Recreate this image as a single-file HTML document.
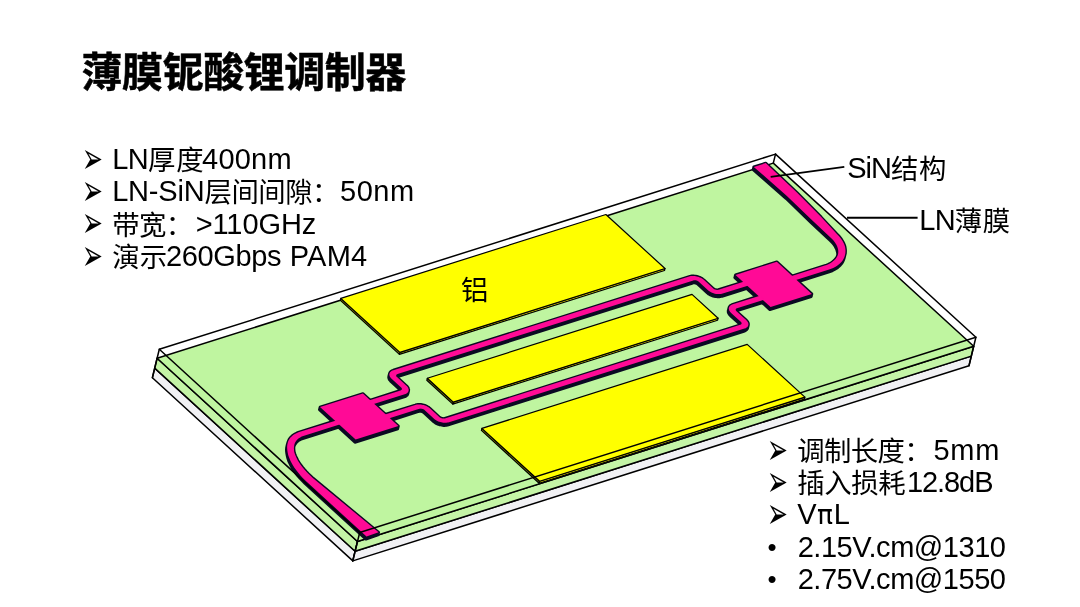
<!DOCTYPE html>
<html lang="zh-CN">
<head>
<meta charset="utf-8">
<title>薄膜铌酸锂调制器</title>
<style>
html,body{margin:0;padding:0;background:#fff;}
body{width:1080px;height:607px;overflow:hidden;}
.slide{position:relative;width:1080px;height:607px;background:#fff;overflow:hidden;
  font-family:"Liberation Sans","Noto Sans CJK SC",sans-serif;color:#000;}
.txt{position:absolute;left:0;top:0;width:1080px;height:607px;will-change:transform;}
h1{position:absolute;left:81.55px;top:42.7px;margin:0;font-size:41px;line-height:60px;font-weight:bold;white-space:nowrap;letter-spacing:-0.46px;-webkit-text-stroke:0.5px #000;}
ul{margin:0;padding:0;list-style:none;}
li{margin:0;padding:0;}
.r{position:absolute;display:block;white-space:pre;line-height:32px;}
.e{font-size:29px;}
.c{font-size:27.4px;}
.b{position:absolute;display:block;line-height:30px;white-space:nowrap;}
.arrow{font-family:"DejaVu Sans",sans-serif;font-size:24px;transform:scale(1.04,1.8);transform-origin:0 0;}
.dot{font-family:"Liberation Sans",sans-serif;font-size:26px;}

</style>
</head>
<body>
<div class="slide">
<svg width="1080" height="607" viewBox="0 0 1080 607" style="position:absolute;left:0;top:0">
<polygon points="154.7,368.1 355.1,551.3 352.8,560.9 152.4,377.7" fill="#f1f1f4" stroke="#000" stroke-width="1.5" stroke-linejoin="round"/>
<polygon points="157.1,358.3 357.5,541.5 355.1,551.3 154.7,368.1" fill="#c4f4a6" stroke="#000" stroke-width="1.5" stroke-linejoin="round"/>
<polygon points="355.1,551.3 971.3,356.1 969.0,365.7 352.8,560.9" fill="#f1f1f4" stroke="#000" stroke-width="1.5" stroke-linejoin="round"/>
<polygon points="357.5,541.5 973.7,346.3 971.3,356.1 355.1,551.3" fill="#c4f4a6" stroke="#000" stroke-width="1.5" stroke-linejoin="round"/>
<polygon points="157.1,358.3 773.3,163.1 973.7,346.3 357.5,541.5" fill="#bff5a0" stroke="#000" stroke-width="1.5" stroke-linejoin="round"/>
<polygon points="340.8,298.4 399.9,352.4 399.4,354.4 340.4,300.4" fill="#8a8a00" stroke="#000" stroke-width="1.2" stroke-linejoin="round"/>
<polygon points="399.9,352.4 665.0,268.5 664.5,270.5 399.4,354.4" fill="#e8e000" stroke="#000" stroke-width="1.2" stroke-linejoin="round"/>
<polygon points="340.8,298.4 605.9,214.5 665.0,268.5 399.9,352.4" fill="#ffff00" stroke="#000" stroke-width="1.2" stroke-linejoin="round"/>
<polygon points="427.3,378.3 453.3,402.1 452.8,404.1 426.8,380.3" fill="#8a8a00" stroke="#000" stroke-width="1.2" stroke-linejoin="round"/>
<polygon points="453.3,402.1 718.1,318.2 717.6,320.2 452.8,404.1" fill="#e8e000" stroke="#000" stroke-width="1.2" stroke-linejoin="round"/>
<polygon points="427.3,378.3 692.0,294.4 718.1,318.2 453.3,402.1" fill="#ffff00" stroke="#000" stroke-width="1.2" stroke-linejoin="round"/>
<polygon points="481.9,428.4 539.6,481.2 539.1,483.2 481.4,430.4" fill="#8a8a00" stroke="#000" stroke-width="1.2" stroke-linejoin="round"/>
<polygon points="539.6,481.2 804.9,397.1 804.4,399.1 539.1,483.2" fill="#e8e000" stroke="#000" stroke-width="1.2" stroke-linejoin="round"/>
<polygon points="481.9,428.4 747.2,344.4 804.9,397.1 539.6,481.2" fill="#ffff00" stroke="#000" stroke-width="1.2" stroke-linejoin="round"/>
<g fill="#0a0a22" stroke="#0a0a22" stroke-width="2.80" stroke-linejoin="round">
<path d="M377.9,535.0 L312.5,480.9 L310.1,478.7 L307.8,476.5 L305.6,474.2 L303.6,471.9 L301.7,469.6 L300.0,467.4 L298.4,465.1 L297.1,462.9 L295.9,460.7 L294.9,458.5 L294.2,456.4 L293.6,454.4 L293.3,452.5 L293.3,450.6 L293.4,448.9 L293.8,447.3 L294.3,445.8 L295.0,444.4 L295.9,443.1 L296.9,442.0 L298.1,440.9 L299.5,440.1 L301.0,439.3 L302.7,438.7 L339.8,427.0 L335.5,423.1 L298.4,434.8 L296.3,435.6 L294.3,436.6 L292.5,437.8 L290.9,439.1 L289.6,440.5 L288.5,442.1 L287.6,443.8 L287.0,445.6 L286.6,447.5 L286.4,449.5 L286.5,451.6 L286.8,453.8 L287.2,456.0 L287.8,458.4 L288.6,460.8 L289.7,463.2 L290.9,465.7 L292.4,468.2 L294.0,470.7 L295.8,473.3 L297.8,475.8 L300.0,478.4 L302.4,480.9 L305.0,483.5 L365.9,539.2Z M378.1,534.3 L312.7,480.2 L310.3,478.1 L307.9,475.8 L305.8,473.5 L303.7,471.3 L301.8,469.0 L300.1,466.7 L298.6,464.4 L297.2,462.2 L296.1,460.0 L295.1,457.9 L294.3,455.8 L293.8,453.7 L293.5,451.8 L293.4,450.0 L293.6,448.2 L293.9,446.6 L294.4,445.1 L295.2,443.7 L296.0,442.4 L297.1,441.3 L298.3,440.3 L299.7,439.4 L301.2,438.6 L302.9,438.0 L339.9,426.3 L335.7,422.4 L298.6,434.2 L296.4,435.0 L294.4,436.0 L292.6,437.1 L291.1,438.4 L289.8,439.8 L288.7,441.4 L287.8,443.1 L287.2,444.9 L286.8,446.8 L286.6,448.8 L286.7,450.9 L287.0,453.1 L287.4,455.4 L288.0,457.7 L288.8,460.1 L289.8,462.5 L291.1,465.0 L292.5,467.5 L294.2,470.0 L296.0,472.6 L298.0,475.1 L300.2,477.7 L302.5,480.2 L305.1,482.8 L366.0,538.5Z M378.2,533.7 L312.8,479.5 L310.4,477.4 L308.1,475.1 L305.9,472.9 L303.9,470.6 L302.0,468.3 L300.3,466.0 L298.8,463.8 L297.4,461.5 L296.2,459.3 L295.3,457.2 L294.5,455.1 L293.9,453.1 L293.7,451.1 L293.6,449.3 L293.7,447.5 L294.1,445.9 L294.6,444.4 L295.3,443.0 L296.2,441.7 L297.3,440.6 L298.5,439.6 L299.8,438.7 L301.3,438.0 L303.0,437.4 L340.1,425.6 L335.9,421.7 L298.8,433.5 L296.6,434.3 L294.6,435.3 L292.8,436.4 L291.2,437.7 L289.9,439.2 L288.8,440.7 L288.0,442.4 L287.3,444.2 L286.9,446.1 L286.8,448.2 L286.8,450.3 L287.1,452.4 L287.5,454.7 L288.1,457.0 L288.9,459.4 L290.0,461.8 L291.2,464.3 L292.7,466.8 L294.3,469.4 L296.2,471.9 L298.2,474.5 L300.3,477.0 L302.7,479.5 L305.3,482.1 L366.2,537.8Z M378.4,533.0 L313.0,478.8 L310.6,476.7 L308.3,474.5 L306.1,472.2 L304.0,469.9 L302.2,467.6 L300.5,465.3 L298.9,463.1 L297.6,460.8 L296.4,458.7 L295.4,456.5 L294.7,454.4 L294.1,452.4 L293.8,450.5 L293.8,448.6 L293.9,446.9 L294.2,445.2 L294.8,443.7 L295.5,442.3 L296.4,441.1 L297.4,439.9 L298.6,438.9 L300.0,438.0 L301.5,437.3 L303.2,436.7 L340.3,424.9 L336.0,421.1 L298.9,432.8 L296.7,433.6 L294.7,434.6 L293.0,435.7 L291.4,437.0 L290.1,438.5 L289.0,440.0 L288.1,441.7 L287.5,443.6 L287.1,445.5 L286.9,447.5 L287.0,449.6 L287.3,451.8 L287.7,454.0 L288.3,456.3 L289.1,458.7 L290.1,461.2 L291.4,463.7 L292.8,466.2 L294.5,468.7 L296.3,471.2 L298.3,473.8 L300.5,476.3 L302.9,478.9 L305.4,481.4 L366.4,537.2Z M378.6,532.3 L313.1,478.2 L310.8,476.0 L308.4,473.8 L306.2,471.5 L304.2,469.2 L302.3,466.9 L300.6,464.7 L299.1,462.4 L297.7,460.2 L296.6,458.0 L295.6,455.8 L294.8,453.7 L294.2,451.7 L294.0,449.8 L293.9,447.9 L294.1,446.2 L294.4,444.6 L294.9,443.1 L295.6,441.7 L296.5,440.4 L297.6,439.3 L298.8,438.2 L300.2,437.4 L301.7,436.6 L303.3,436.0 L340.4,424.3 L336.2,420.4 L299.1,432.1 L296.9,432.9 L294.9,433.9 L293.1,435.1 L291.6,436.4 L290.2,437.8 L289.1,439.4 L288.3,441.1 L287.7,442.9 L287.3,444.8 L287.1,446.8 L287.2,448.9 L287.4,451.1 L287.8,453.3 L288.4,455.7 L289.3,458.1 L290.3,460.5 L291.6,463.0 L293.0,465.5 L294.6,468.0 L296.5,470.6 L298.5,473.1 L300.7,475.7 L303.0,478.2 L305.6,480.8 L366.5,536.5Z"/>
<path d="M319.4,409.8 L362.2,396.3 L397.8,428.8 L354.9,442.3Z M319.5,409.1 L362.4,395.6 L397.9,428.1 L355.1,441.7Z M319.7,408.5 L362.5,394.9 L398.1,427.4 L355.3,441.0Z M319.9,407.8 L362.7,394.2 L398.3,426.7 L355.4,440.3Z M320.0,407.1 L362.9,393.6 L398.4,426.1 L355.6,439.6Z"/>
<path d="M734.8,277.6 L776.1,264.5 L811.2,296.6 L769.9,309.7Z M735.0,276.9 L776.3,263.9 L811.4,295.9 L770.1,309.0Z M735.2,276.3 L776.4,263.2 L811.5,295.3 L770.2,308.3Z M735.3,275.6 L776.6,262.5 L811.7,294.6 L770.4,307.7Z M735.5,274.9 L776.8,261.8 L811.8,293.9 L770.6,307.0Z"/>
<path d="M753.2,169.6 L786.2,198.6 L810.9,222.4 L828.8,239.3 L830.4,240.7 L831.7,242.0 L832.9,243.3 L834.0,244.7 L834.9,246.1 L835.7,247.5 L836.4,248.9 L836.9,250.4 L837.3,251.8 L837.6,253.2 L837.6,254.6 L837.6,256.0 L837.2,257.4 L836.7,258.7 L836.1,259.9 L835.3,261.1 L834.3,262.2 L833.3,263.3 L832.1,264.3 L830.7,265.3 L829.3,266.2 L827.7,267.0 L826.0,267.7 L824.2,268.3 L790.3,279.0 L794.5,282.9 L828.4,272.2 L830.6,271.4 L832.6,270.6 L834.5,269.6 L836.2,268.6 L837.8,267.5 L839.2,266.3 L840.5,265.0 L841.6,263.6 L842.6,262.2 L843.3,260.7 L843.9,259.2 L844.4,257.6 L844.7,256.0 L844.9,254.3 L844.9,252.6 L844.7,250.9 L844.3,249.2 L843.7,247.4 L843.0,245.6 L842.1,243.9 L841.0,242.1 L839.7,240.4 L838.2,238.7 L836.8,237.1 L820.5,219.8 L796.5,195.5 L765.1,165.8Z M753.3,168.9 L786.4,197.9 L811.1,221.7 L828.9,238.6 L830.5,240.0 L831.8,241.3 L833.0,242.7 L834.1,244.0 L835.1,245.4 L835.9,246.8 L836.6,248.3 L837.1,249.7 L837.5,251.1 L837.7,252.6 L837.8,254.0 L837.7,255.4 L837.4,256.7 L836.9,258.0 L836.2,259.2 L835.4,260.4 L834.5,261.6 L833.4,262.7 L832.2,263.7 L830.9,264.6 L829.4,265.5 L827.8,266.3 L826.1,267.0 L824.3,267.6 L790.5,278.3 L794.7,282.2 L828.6,271.5 L830.7,270.7 L832.7,269.9 L834.6,269.0 L836.4,267.9 L838.0,266.8 L839.4,265.6 L840.7,264.3 L841.8,262.9 L842.7,261.5 L843.5,260.0 L844.1,258.5 L844.5,256.9 L844.9,255.3 L845.1,253.6 L845.0,251.9 L844.9,250.2 L844.5,248.5 L843.9,246.7 L843.2,245.0 L842.2,243.2 L841.1,241.5 L839.8,239.7 L838.4,238.0 L836.9,236.4 L820.7,219.1 L796.7,194.8 L765.2,165.1Z M753.5,168.2 L786.6,197.2 L811.3,221.1 L829.1,237.9 L830.7,239.3 L832.0,240.6 L833.2,242.0 L834.3,243.4 L835.2,244.8 L836.1,246.2 L836.7,247.6 L837.3,249.0 L837.6,250.5 L837.9,251.9 L838.0,253.3 L837.9,254.7 L837.5,256.0 L837.0,257.3 L836.4,258.6 L835.6,259.8 L834.7,260.9 L833.6,262.0 L832.4,263.0 L831.0,263.9 L829.6,264.8 L828.0,265.6 L826.3,266.3 L824.5,266.9 L790.6,277.7 L794.9,281.5 L828.8,270.8 L830.9,270.1 L832.9,269.2 L834.8,268.3 L836.5,267.2 L838.1,266.1 L839.6,264.9 L840.8,263.6 L842.0,262.3 L842.9,260.8 L843.7,259.4 L844.3,257.8 L844.7,256.2 L845.0,254.6 L845.2,253.0 L845.2,251.3 L845.0,249.6 L844.6,247.8 L844.1,246.1 L843.3,244.3 L842.4,242.5 L841.3,240.8 L840.0,239.0 L838.6,237.3 L837.1,235.8 L820.8,218.5 L796.9,194.1 L765.4,164.4Z M753.7,167.6 L786.7,196.6 L811.4,220.4 L829.2,237.2 L830.8,238.7 L832.2,240.0 L833.4,241.3 L834.5,242.7 L835.4,244.1 L836.2,245.5 L836.9,246.9 L837.4,248.3 L837.8,249.8 L838.0,251.2 L838.1,252.6 L838.1,254.0 L837.7,255.3 L837.2,256.6 L836.6,257.9 L835.8,259.1 L834.8,260.2 L833.7,261.3 L832.5,262.3 L831.2,263.3 L829.7,264.1 L828.2,264.9 L826.5,265.6 L824.7,266.3 L790.8,277.0 L795.0,280.9 L828.9,270.1 L831.0,269.4 L833.1,268.5 L834.9,267.6 L836.7,266.6 L838.3,265.4 L839.7,264.2 L841.0,262.9 L842.1,261.6 L843.1,260.2 L843.8,258.7 L844.4,257.1 L844.8,255.5 L845.2,253.9 L845.4,252.3 L845.4,250.6 L845.2,248.9 L844.8,247.1 L844.2,245.4 L843.5,243.6 L842.6,241.9 L841.4,240.1 L840.2,238.4 L838.7,236.6 L837.3,235.1 L821.0,217.8 L797.0,193.5 L765.5,163.8Z M753.8,166.9 L786.9,195.9 L811.6,219.7 L829.4,236.6 L831.0,238.0 L832.3,239.3 L833.5,240.6 L834.6,242.0 L835.6,243.4 L836.4,244.8 L837.1,246.2 L837.6,247.7 L838.0,249.1 L838.2,250.5 L838.3,251.9 L838.2,253.3 L837.9,254.7 L837.4,256.0 L836.7,257.2 L835.9,258.4 L835.0,259.5 L833.9,260.6 L832.7,261.6 L831.4,262.6 L829.9,263.5 L828.3,264.3 L826.6,265.0 L824.8,265.6 L790.9,276.3 L795.2,280.2 L829.1,269.5 L831.2,268.7 L833.2,267.9 L835.1,266.9 L836.8,265.9 L838.4,264.8 L839.9,263.6 L841.2,262.3 L842.3,260.9 L843.2,259.5 L844.0,258.0 L844.6,256.5 L845.0,254.9 L845.4,253.3 L845.5,251.6 L845.5,249.9 L845.3,248.2 L845.0,246.5 L844.4,244.7 L843.6,242.9 L842.7,241.2 L841.6,239.4 L840.3,237.7 L838.9,236.0 L837.4,234.4 L821.2,217.1 L797.2,192.8 L765.7,163.1Z"/>
<path d="M372.4,407.0 L404.1,397.0 L404.9,396.7 L405.6,396.4 L406.2,396.0 L406.7,395.5 L407.2,395.1 L407.6,394.5 L407.8,394.0 L408.0,393.4 L408.1,392.8 L408.0,392.2 L407.9,391.6 L407.7,390.9 L407.3,390.3 L406.9,389.7 L406.4,389.0 L405.8,388.4 L396.3,379.8 L396.1,379.6 L395.9,379.3 L395.8,379.1 L395.7,378.9 L395.6,378.7 L395.5,378.5 L395.5,378.2 L395.5,378.0 L395.6,377.8 L395.7,377.6 L395.8,377.5 L396.0,377.3 L396.2,377.1 L396.4,377.0 L396.6,376.9 L396.9,376.8 L692.7,283.1 L693.0,283.0 L693.3,282.9 L693.6,282.9 L694.0,282.9 L694.3,282.9 L694.7,282.9 L695.0,283.0 L695.4,283.0 L695.7,283.1 L696.1,283.2 L696.4,283.4 L696.7,283.5 L697.0,283.7 L697.3,283.9 L697.6,284.0 L697.8,284.3 L707.3,292.9 L708.0,293.5 L708.7,294.0 L709.6,294.5 L710.4,295.0 L711.4,295.4 L712.3,295.8 L713.3,296.1 L714.3,296.4 L715.3,296.6 L716.4,296.7 L717.4,296.8 L718.4,296.8 L719.4,296.8 L720.3,296.7 L721.2,296.5 L722.0,296.3 L747.9,288.1 L743.7,284.2 L717.8,292.4 L717.5,292.5 L717.2,292.5 L716.9,292.6 L716.5,292.6 L716.2,292.6 L715.8,292.5 L715.5,292.5 L715.1,292.4 L714.8,292.3 L714.4,292.2 L714.1,292.1 L713.8,292.0 L713.5,291.8 L713.2,291.6 L712.9,291.4 L712.7,291.2 L703.2,282.5 L702.5,282.0 L701.7,281.4 L700.9,280.9 L700.1,280.5 L699.1,280.1 L698.2,279.7 L697.2,279.4 L696.2,279.1 L695.1,278.9 L694.1,278.8 L693.1,278.7 L692.1,278.7 L691.1,278.7 L690.2,278.8 L689.3,279.0 L688.4,279.2 L392.7,372.9 L391.9,373.2 L391.2,373.5 L390.6,373.9 L390.0,374.4 L389.6,374.8 L389.2,375.4 L388.9,375.9 L388.8,376.5 L388.7,377.1 L388.7,377.7 L388.9,378.3 L389.1,379.0 L389.4,379.6 L389.8,380.2 L390.4,380.9 L390.9,381.5 L400.4,390.1 L400.7,390.3 L400.8,390.6 L401.0,390.8 L401.1,391.0 L401.2,391.2 L401.2,391.4 L401.2,391.7 L401.2,391.9 L401.2,392.1 L401.1,392.3 L400.9,392.4 L400.8,392.6 L400.6,392.8 L400.4,392.9 L400.1,393.0 L399.8,393.1 L368.1,403.2Z M372.5,406.4 L404.2,396.3 L405.0,396.0 L405.7,395.7 L406.4,395.3 L406.9,394.9 L407.4,394.4 L407.7,393.9 L408.0,393.3 L408.2,392.7 L408.2,392.1 L408.2,391.5 L408.1,390.9 L407.8,390.2 L407.5,389.6 L407.1,389.0 L406.6,388.4 L406.0,387.8 L396.5,379.1 L396.3,378.9 L396.1,378.7 L395.9,378.4 L395.8,378.2 L395.7,378.0 L395.7,377.8 L395.7,377.6 L395.7,377.4 L395.8,377.2 L395.9,377.0 L396.0,376.8 L396.1,376.6 L396.3,376.5 L396.6,376.3 L396.8,376.2 L397.1,376.1 L692.8,282.4 L693.1,282.3 L693.4,282.3 L693.8,282.2 L694.1,282.2 L694.5,282.2 L694.8,282.3 L695.2,282.3 L695.5,282.4 L695.9,282.5 L696.2,282.6 L696.6,282.7 L696.9,282.8 L697.2,283.0 L697.5,283.2 L697.7,283.4 L698.0,283.6 L707.5,292.3 L708.2,292.8 L708.9,293.4 L709.7,293.9 L710.6,294.3 L711.5,294.7 L712.5,295.1 L713.5,295.4 L714.5,295.7 L715.5,295.9 L716.5,296.0 L717.6,296.1 L718.6,296.1 L719.5,296.1 L720.5,296.0 L721.4,295.8 L722.2,295.6 L748.1,287.4 L743.8,283.5 L718.0,291.7 L717.7,291.8 L717.4,291.9 L717.0,291.9 L716.7,291.9 L716.3,291.9 L716.0,291.9 L715.6,291.8 L715.3,291.8 L714.9,291.7 L714.6,291.6 L714.2,291.4 L713.9,291.3 L713.6,291.1 L713.3,290.9 L713.1,290.8 L712.8,290.6 L703.3,281.9 L702.7,281.3 L701.9,280.8 L701.1,280.3 L700.2,279.8 L699.3,279.4 L698.3,279.0 L697.3,278.7 L696.3,278.4 L695.3,278.2 L694.3,278.1 L693.3,278.0 L692.3,278.0 L691.3,278.0 L690.3,278.1 L689.4,278.3 L688.6,278.5 L392.8,372.2 L392.1,372.5 L391.4,372.9 L390.7,373.2 L390.2,373.7 L389.7,374.2 L389.4,374.7 L389.1,375.2 L388.9,375.8 L388.9,376.4 L388.9,377.0 L389.0,377.7 L389.2,378.3 L389.6,378.9 L390.0,379.6 L390.5,380.2 L391.1,380.8 L400.6,389.5 L400.8,389.7 L401.0,389.9 L401.1,390.1 L401.3,390.3 L401.3,390.5 L401.4,390.8 L401.4,391.0 L401.4,391.2 L401.3,391.4 L401.2,391.6 L401.1,391.8 L400.9,391.9 L400.7,392.1 L400.5,392.2 L400.3,392.3 L400.0,392.4 L368.3,402.5Z M372.7,405.7 L404.4,395.6 L405.2,395.4 L405.9,395.0 L406.5,394.6 L407.1,394.2 L407.5,393.7 L407.9,393.2 L408.2,392.6 L408.3,392.1 L408.4,391.5 L408.4,390.8 L408.2,390.2 L408.0,389.6 L407.7,388.9 L407.2,388.3 L406.7,387.7 L406.1,387.1 L396.6,378.4 L396.4,378.2 L396.2,378.0 L396.1,377.8 L396.0,377.5 L395.9,377.3 L395.9,377.1 L395.8,376.9 L395.9,376.7 L395.9,376.5 L396.0,376.3 L396.1,376.1 L396.3,375.9 L396.5,375.8 L396.7,375.6 L397.0,375.5 L397.2,375.4 L693.0,281.7 L693.3,281.7 L693.6,281.6 L693.9,281.6 L694.3,281.5 L694.6,281.5 L695.0,281.6 L695.3,281.6 L695.7,281.7 L696.1,281.8 L696.4,281.9 L696.7,282.0 L697.1,282.2 L697.4,282.3 L697.6,282.5 L697.9,282.7 L698.1,282.9 L707.6,291.6 L708.3,292.1 L709.1,292.7 L709.9,293.2 L710.8,293.7 L711.7,294.1 L712.6,294.4 L713.6,294.8 L714.6,295.0 L715.7,295.2 L716.7,295.4 L717.7,295.4 L718.7,295.5 L719.7,295.4 L720.6,295.3 L721.5,295.1 L722.4,294.9 L748.2,286.7 L744.0,282.8 L718.1,291.0 L717.8,291.1 L717.5,291.2 L717.2,291.2 L716.9,291.2 L716.5,291.2 L716.2,291.2 L715.8,291.2 L715.4,291.1 L715.1,291.0 L714.7,290.9 L714.4,290.8 L714.1,290.6 L713.8,290.4 L713.5,290.3 L713.2,290.1 L713.0,289.9 L703.5,281.2 L702.8,280.6 L702.1,280.1 L701.3,279.6 L700.4,279.1 L699.5,278.7 L698.5,278.3 L697.5,278.0 L696.5,277.8 L695.5,277.6 L694.4,277.4 L693.4,277.3 L692.4,277.3 L691.4,277.4 L690.5,277.5 L689.6,277.6 L688.8,277.9 L393.0,371.6 L392.2,371.8 L391.5,372.2 L390.9,372.6 L390.3,373.0 L389.9,373.5 L389.5,374.0 L389.3,374.6 L389.1,375.1 L389.0,375.7 L389.0,376.4 L389.2,377.0 L389.4,377.6 L389.7,378.3 L390.2,378.9 L390.7,379.5 L391.3,380.1 L400.8,388.8 L401.0,389.0 L401.2,389.2 L401.3,389.4 L401.4,389.7 L401.5,389.9 L401.5,390.1 L401.6,390.3 L401.5,390.5 L401.5,390.7 L401.4,390.9 L401.3,391.1 L401.1,391.3 L400.9,391.4 L400.7,391.6 L400.4,391.7 L400.2,391.8 L368.4,401.8Z M372.8,405.0 L404.6,395.0 L405.3,394.7 L406.1,394.3 L406.7,394.0 L407.2,393.5 L407.7,393.0 L408.0,392.5 L408.3,392.0 L408.5,391.4 L408.6,390.8 L408.5,390.2 L408.4,389.5 L408.2,388.9 L407.8,388.3 L407.4,387.6 L406.9,387.0 L406.3,386.4 L396.8,377.7 L396.6,377.5 L396.4,377.3 L396.3,377.1 L396.1,376.9 L396.1,376.6 L396.0,376.4 L396.0,376.2 L396.0,376.0 L396.1,375.8 L396.2,375.6 L396.3,375.4 L396.5,375.3 L396.7,375.1 L396.9,375.0 L397.1,374.9 L397.4,374.8 L693.2,281.1 L693.5,281.0 L693.8,280.9 L694.1,280.9 L694.4,280.9 L694.8,280.9 L695.1,280.9 L695.5,281.0 L695.9,281.0 L696.2,281.1 L696.6,281.2 L696.9,281.4 L697.2,281.5 L697.5,281.7 L697.8,281.8 L698.1,282.0 L698.3,282.2 L707.8,290.9 L708.5,291.5 L709.2,292.0 L710.0,292.5 L710.9,293.0 L711.8,293.4 L712.8,293.8 L713.8,294.1 L714.8,294.3 L715.8,294.5 L716.9,294.7 L717.9,294.8 L718.9,294.8 L719.9,294.7 L720.8,294.6 L721.7,294.5 L722.5,294.2 L748.4,286.0 L744.2,282.2 L718.3,290.4 L718.0,290.4 L717.7,290.5 L717.4,290.5 L717.0,290.6 L716.7,290.6 L716.3,290.5 L716.0,290.5 L715.6,290.4 L715.2,290.3 L714.9,290.2 L714.6,290.1 L714.2,289.9 L713.9,289.8 L713.7,289.6 L713.4,289.4 L713.2,289.2 L703.7,280.5 L703.0,280.0 L702.2,279.4 L701.4,278.9 L700.5,278.4 L699.6,278.0 L698.7,277.7 L697.7,277.3 L696.7,277.1 L695.6,276.9 L694.6,276.7 L693.6,276.7 L692.6,276.6 L691.6,276.7 L690.7,276.8 L689.8,277.0 L688.9,277.2 L393.2,370.9 L392.4,371.2 L391.7,371.5 L391.0,371.9 L390.5,372.3 L390.0,372.8 L389.7,373.3 L389.4,373.9 L389.2,374.5 L389.2,375.1 L389.2,375.7 L389.3,376.3 L389.6,377.0 L389.9,377.6 L390.3,378.2 L390.8,378.8 L391.4,379.4 L400.9,388.1 L401.1,388.3 L401.3,388.5 L401.5,388.8 L401.6,389.0 L401.7,389.2 L401.7,389.4 L401.7,389.6 L401.7,389.8 L401.6,390.0 L401.5,390.2 L401.4,390.4 L401.3,390.6 L401.1,390.7 L400.8,390.9 L400.6,391.0 L400.3,391.1 L368.6,401.1Z M373.0,404.3 L404.7,394.3 L405.5,394.0 L406.2,393.7 L406.8,393.3 L407.4,392.8 L407.8,392.4 L408.2,391.8 L408.5,391.3 L408.6,390.7 L408.7,390.1 L408.7,389.5 L408.5,388.9 L408.3,388.2 L408.0,387.6 L407.6,387.0 L407.1,386.3 L406.5,385.7 L397.0,377.1 L396.7,376.9 L396.6,376.6 L396.4,376.4 L396.3,376.2 L396.2,376.0 L396.2,375.8 L396.2,375.5 L396.2,375.3 L396.3,375.1 L396.3,374.9 L396.5,374.8 L396.6,374.6 L396.8,374.4 L397.0,374.3 L397.3,374.2 L397.6,374.1 L693.3,280.4 L693.6,280.3 L693.9,280.2 L694.3,280.2 L694.6,280.2 L695.0,280.2 L695.3,280.2 L695.7,280.3 L696.0,280.3 L696.4,280.4 L696.7,280.5 L697.1,280.7 L697.4,280.8 L697.7,281.0 L698.0,281.2 L698.2,281.3 L698.5,281.6 L708.0,290.2 L708.6,290.8 L709.4,291.3 L710.2,291.8 L711.1,292.3 L712.0,292.7 L713.0,293.1 L714.0,293.4 L715.0,293.7 L716.0,293.9 L717.0,294.0 L718.0,294.1 L719.0,294.1 L720.0,294.1 L721.0,294.0 L721.9,293.8 L722.7,293.6 L748.6,285.4 L744.3,281.5 L718.5,289.7 L718.2,289.8 L717.9,289.8 L717.5,289.9 L717.2,289.9 L716.8,289.9 L716.5,289.8 L716.1,289.8 L715.8,289.7 L715.4,289.6 L715.1,289.5 L714.7,289.4 L714.4,289.3 L714.1,289.1 L713.8,288.9 L713.6,288.7 L713.3,288.5 L703.8,279.8 L703.1,279.3 L702.4,278.7 L701.6,278.2 L700.7,277.8 L699.8,277.4 L698.8,277.0 L697.8,276.7 L696.8,276.4 L695.8,276.2 L694.8,276.1 L693.7,276.0 L692.7,276.0 L691.8,276.0 L690.8,276.1 L689.9,276.3 L689.1,276.5 L393.3,370.2 L392.5,370.5 L391.8,370.8 L391.2,371.2 L390.7,371.7 L390.2,372.1 L389.8,372.7 L389.6,373.2 L389.4,373.8 L389.3,374.4 L389.4,375.0 L389.5,375.6 L389.7,376.3 L390.1,376.9 L390.5,377.5 L391.0,378.2 L391.6,378.8 L401.1,387.4 L401.3,387.6 L401.5,387.9 L401.6,388.1 L401.7,388.3 L401.8,388.5 L401.9,388.7 L401.9,389.0 L401.9,389.2 L401.8,389.4 L401.7,389.6 L401.6,389.7 L401.4,389.9 L401.2,390.1 L401.0,390.2 L400.8,390.3 L400.5,390.4 L368.8,400.5Z"/>
<path d="M387.9,421.3 L418.7,411.5 L419.0,411.5 L419.4,411.4 L419.7,411.4 L420.0,411.3 L420.4,411.4 L420.7,411.4 L421.1,411.4 L421.4,411.5 L421.8,411.6 L422.1,411.7 L422.5,411.8 L422.8,412.0 L423.1,412.1 L423.4,412.3 L423.6,412.5 L423.9,412.7 L433.6,421.6 L434.3,422.2 L435.0,422.7 L435.9,423.2 L436.7,423.7 L437.7,424.1 L438.6,424.5 L439.6,424.8 L440.6,425.0 L441.7,425.2 L442.7,425.4 L443.7,425.5 L444.7,425.5 L445.7,425.4 L446.6,425.3 L447.5,425.2 L448.3,424.9 L743.8,331.3 L744.6,331.1 L745.3,330.7 L745.9,330.3 L746.5,329.9 L746.9,329.4 L747.3,328.9 L747.6,328.3 L747.7,327.8 L747.8,327.2 L747.8,326.5 L747.6,325.9 L747.4,325.3 L747.1,324.6 L746.7,324.0 L746.1,323.4 L745.5,322.8 L735.8,313.9 L735.6,313.7 L735.4,313.5 L735.3,313.2 L735.2,313.0 L735.1,312.8 L735.0,312.6 L735.0,312.4 L735.0,312.2 L735.1,312.0 L735.2,311.8 L735.3,311.6 L735.5,311.4 L735.7,311.3 L735.9,311.1 L736.1,311.0 L736.4,310.9 L763.5,302.3 L759.3,298.4 L732.2,307.0 L731.4,307.3 L730.7,307.7 L730.1,308.0 L729.5,308.5 L729.1,309.0 L728.7,309.5 L728.4,310.0 L728.2,310.6 L728.2,311.2 L728.2,311.8 L728.3,312.5 L728.6,313.1 L728.9,313.7 L729.3,314.4 L729.8,315.0 L730.4,315.6 L740.2,324.5 L740.4,324.7 L740.6,324.9 L740.7,325.1 L740.8,325.4 L740.9,325.6 L741.0,325.8 L741.0,326.0 L740.9,326.2 L740.9,326.4 L740.8,326.6 L740.7,326.8 L740.5,327.0 L740.3,327.1 L740.1,327.3 L739.8,327.4 L739.6,327.5 L444.1,421.1 L443.8,421.1 L443.5,421.2 L443.2,421.2 L442.8,421.3 L442.5,421.3 L442.1,421.2 L441.8,421.2 L441.4,421.1 L441.1,421.0 L440.7,420.9 L440.4,420.8 L440.1,420.6 L439.8,420.5 L439.5,420.3 L439.2,420.1 L439.0,419.9 L429.2,411.0 L428.6,410.4 L427.8,409.9 L427.0,409.4 L426.1,408.9 L425.2,408.5 L424.2,408.1 L423.2,407.8 L422.2,407.6 L421.2,407.4 L420.2,407.2 L419.2,407.1 L418.2,407.1 L417.2,407.2 L416.2,407.3 L415.3,407.4 L414.5,407.7 L383.7,417.4Z M388.1,420.6 L418.9,410.9 L419.2,410.8 L419.5,410.7 L419.8,410.7 L420.2,410.7 L420.5,410.7 L420.9,410.7 L421.2,410.8 L421.6,410.8 L422.0,410.9 L422.3,411.0 L422.6,411.2 L423.0,411.3 L423.3,411.5 L423.5,411.6 L423.8,411.8 L424.0,412.0 L433.8,420.9 L434.5,421.5 L435.2,422.0 L436.0,422.5 L436.9,423.0 L437.8,423.4 L438.8,423.8 L439.8,424.1 L440.8,424.4 L441.8,424.6 L442.8,424.7 L443.9,424.8 L444.9,424.8 L445.8,424.8 L446.8,424.7 L447.7,424.5 L448.5,424.3 L744.0,330.7 L744.8,330.4 L745.5,330.0 L746.1,329.7 L746.6,329.2 L747.1,328.7 L747.5,328.2 L747.7,327.7 L747.9,327.1 L748.0,326.5 L747.9,325.9 L747.8,325.2 L747.6,324.6 L747.2,324.0 L746.8,323.3 L746.3,322.7 L745.7,322.1 L736.0,313.2 L735.8,313.0 L735.6,312.8 L735.4,312.6 L735.3,312.4 L735.2,312.1 L735.2,311.9 L735.2,311.7 L735.2,311.5 L735.3,311.3 L735.4,311.1 L735.5,310.9 L735.6,310.7 L735.8,310.6 L736.0,310.5 L736.3,310.3 L736.6,310.2 L763.7,301.6 L759.4,297.8 L732.3,306.4 L731.5,306.6 L730.8,307.0 L730.2,307.4 L729.7,307.8 L729.2,308.3 L728.8,308.8 L728.6,309.4 L728.4,309.9 L728.3,310.5 L728.4,311.2 L728.5,311.8 L728.7,312.4 L729.1,313.1 L729.5,313.7 L730.0,314.3 L730.6,314.9 L740.3,323.8 L740.6,324.0 L740.7,324.2 L740.9,324.5 L741.0,324.7 L741.1,324.9 L741.1,325.1 L741.1,325.3 L741.1,325.5 L741.0,325.7 L741.0,325.9 L740.8,326.1 L740.7,326.3 L740.5,326.4 L740.3,326.6 L740.0,326.7 L739.7,326.8 L444.3,420.4 L444.0,420.5 L443.7,420.5 L443.3,420.6 L443.0,420.6 L442.7,420.6 L442.3,420.5 L441.9,420.5 L441.6,420.4 L441.2,420.3 L440.9,420.2 L440.5,420.1 L440.2,420.0 L439.9,419.8 L439.6,419.6 L439.4,419.4 L439.1,419.2 L429.4,410.3 L428.7,409.8 L428.0,409.2 L427.2,408.7 L426.3,408.2 L425.4,407.8 L424.4,407.5 L423.4,407.1 L422.4,406.9 L421.4,406.7 L420.3,406.5 L419.3,406.5 L418.3,406.4 L417.3,406.5 L416.4,406.6 L415.5,406.8 L414.7,407.0 L383.9,416.7Z M388.3,419.9 L419.1,410.2 L419.4,410.1 L419.7,410.0 L420.0,410.0 L420.3,410.0 L420.7,410.0 L421.0,410.0 L421.4,410.1 L421.8,410.1 L422.1,410.2 L422.5,410.4 L422.8,410.5 L423.1,410.6 L423.4,410.8 L423.7,411.0 L424.0,411.1 L424.2,411.4 L433.9,420.3 L434.6,420.8 L435.4,421.4 L436.2,421.9 L437.1,422.3 L438.0,422.7 L438.9,423.1 L439.9,423.4 L441.0,423.7 L442.0,423.9 L443.0,424.0 L444.0,424.1 L445.0,424.1 L446.0,424.1 L446.9,424.0 L447.8,423.8 L448.7,423.6 L744.1,330.0 L744.9,329.7 L745.6,329.4 L746.2,329.0 L746.8,328.5 L747.3,328.1 L747.6,327.5 L747.9,327.0 L748.1,326.4 L748.1,325.8 L748.1,325.2 L748.0,324.6 L747.7,323.9 L747.4,323.3 L747.0,322.7 L746.5,322.0 L745.9,321.4 L736.1,312.5 L735.9,312.3 L735.7,312.1 L735.6,311.9 L735.5,311.7 L735.4,311.5 L735.3,311.2 L735.3,311.0 L735.4,310.8 L735.4,310.6 L735.5,310.4 L735.6,310.2 L735.8,310.1 L736.0,309.9 L736.2,309.8 L736.5,309.7 L736.7,309.6 L763.8,301.0 L759.6,297.1 L732.5,305.7 L731.7,306.0 L731.0,306.3 L730.4,306.7 L729.8,307.1 L729.4,307.6 L729.0,308.1 L728.7,308.7 L728.6,309.3 L728.5,309.9 L728.5,310.5 L728.7,311.1 L728.9,311.8 L729.2,312.4 L729.7,313.0 L730.2,313.6 L730.8,314.2 L740.5,323.1 L740.7,323.3 L740.9,323.6 L741.0,323.8 L741.2,324.0 L741.2,324.2 L741.3,324.4 L741.3,324.7 L741.3,324.9 L741.2,325.1 L741.1,325.3 L741.0,325.4 L740.8,325.6 L740.6,325.8 L740.4,325.9 L740.2,326.0 L739.9,326.1 L444.4,419.7 L444.1,419.8 L443.8,419.9 L443.5,419.9 L443.2,419.9 L442.8,419.9 L442.5,419.9 L442.1,419.8 L441.7,419.8 L441.4,419.7 L441.0,419.6 L440.7,419.4 L440.4,419.3 L440.1,419.1 L439.8,418.9 L439.5,418.8 L439.3,418.6 L429.6,409.6 L428.9,409.1 L428.1,408.5 L427.3,408.0 L426.4,407.6 L425.5,407.2 L424.6,406.8 L423.6,406.5 L422.6,406.2 L421.5,406.0 L420.5,405.9 L419.5,405.8 L418.5,405.8 L417.5,405.8 L416.6,405.9 L415.7,406.1 L414.8,406.3 L384.0,416.1Z M388.4,419.3 L419.2,409.5 L419.5,409.4 L419.8,409.4 L420.2,409.3 L420.5,409.3 L420.9,409.3 L421.2,409.4 L421.6,409.4 L421.9,409.5 L422.3,409.6 L422.6,409.7 L423.0,409.8 L423.3,409.9 L423.6,410.1 L423.9,410.3 L424.1,410.5 L424.4,410.7 L434.1,419.6 L434.8,420.1 L435.5,420.7 L436.3,421.2 L437.2,421.7 L438.1,422.1 L439.1,422.4 L440.1,422.8 L441.1,423.0 L442.1,423.2 L443.2,423.4 L444.2,423.4 L445.2,423.5 L446.2,423.4 L447.1,423.3 L448.0,423.1 L448.8,422.9 L744.3,329.3 L745.1,329.0 L745.8,328.7 L746.4,328.3 L747.0,327.9 L747.4,327.4 L747.8,326.9 L748.0,326.3 L748.2,325.7 L748.3,325.1 L748.3,324.5 L748.1,323.9 L747.9,323.2 L747.6,322.6 L747.1,322.0 L746.6,321.4 L746.0,320.8 L736.3,311.9 L736.1,311.7 L735.9,311.4 L735.8,311.2 L735.6,311.0 L735.6,310.8 L735.5,310.6 L735.5,310.3 L735.5,310.1 L735.6,309.9 L735.7,309.7 L735.8,309.6 L736.0,309.4 L736.2,309.2 L736.4,309.1 L736.6,309.0 L736.9,308.9 L764.0,300.3 L759.8,296.4 L732.6,305.0 L731.9,305.3 L731.2,305.6 L730.5,306.0 L730.0,306.5 L729.5,306.9 L729.2,307.5 L728.9,308.0 L728.7,308.6 L728.7,309.2 L728.7,309.8 L728.8,310.5 L729.1,311.1 L729.4,311.7 L729.8,312.4 L730.3,313.0 L730.9,313.6 L740.7,322.5 L740.9,322.7 L741.1,322.9 L741.2,323.1 L741.3,323.3 L741.4,323.6 L741.4,323.8 L741.5,324.0 L741.4,324.2 L741.4,324.4 L741.3,324.6 L741.1,324.8 L741.0,324.9 L740.8,325.1 L740.6,325.2 L740.3,325.3 L740.1,325.4 L444.6,419.0 L444.3,419.1 L444.0,419.2 L443.7,419.2 L443.3,419.2 L443.0,419.2 L442.6,419.2 L442.3,419.1 L441.9,419.1 L441.6,419.0 L441.2,418.9 L440.9,418.7 L440.6,418.6 L440.2,418.4 L440.0,418.3 L439.7,418.1 L439.5,417.9 L429.7,409.0 L429.0,408.4 L428.3,407.9 L427.5,407.4 L426.6,406.9 L425.7,406.5 L424.7,406.1 L423.7,405.8 L422.7,405.5 L421.7,405.3 L420.7,405.2 L419.6,405.1 L418.6,405.1 L417.7,405.1 L416.7,405.2 L415.8,405.4 L415.0,405.6 L384.2,415.4Z M388.6,418.6 L419.4,408.8 L419.7,408.8 L420.0,408.7 L420.3,408.7 L420.7,408.6 L421.0,408.7 L421.4,408.7 L421.7,408.7 L422.1,408.8 L422.4,408.9 L422.8,409.0 L423.1,409.1 L423.4,409.3 L423.7,409.4 L424.0,409.6 L424.3,409.8 L424.5,410.0 L434.3,418.9 L434.9,419.5 L435.7,420.0 L436.5,420.5 L437.4,421.0 L438.3,421.4 L439.3,421.8 L440.3,422.1 L441.3,422.3 L442.3,422.5 L443.3,422.7 L444.4,422.8 L445.4,422.8 L446.3,422.7 L447.3,422.6 L448.2,422.5 L449.0,422.2 L744.5,328.6 L745.2,328.4 L745.9,328.0 L746.6,327.6 L747.1,327.2 L747.6,326.7 L747.9,326.2 L748.2,325.6 L748.4,325.1 L748.4,324.5 L748.4,323.8 L748.3,323.2 L748.1,322.6 L747.7,321.9 L747.3,321.3 L746.8,320.7 L746.2,320.1 L736.5,311.2 L736.2,311.0 L736.1,310.8 L735.9,310.5 L735.8,310.3 L735.7,310.1 L735.7,309.9 L735.7,309.7 L735.7,309.5 L735.7,309.3 L735.8,309.1 L736.0,308.9 L736.1,308.7 L736.3,308.6 L736.5,308.4 L736.8,308.3 L737.0,308.2 L764.2,299.6 L759.9,295.7 L732.8,304.3 L732.0,304.6 L731.3,305.0 L730.7,305.3 L730.2,305.8 L729.7,306.3 L729.3,306.8 L729.1,307.3 L728.9,307.9 L728.8,308.5 L728.9,309.1 L729.0,309.8 L729.2,310.4 L729.6,311.0 L730.0,311.7 L730.5,312.3 L731.1,312.9 L740.8,321.8 L741.0,322.0 L741.2,322.2 L741.4,322.4 L741.5,322.7 L741.6,322.9 L741.6,323.1 L741.6,323.3 L741.6,323.5 L741.5,323.7 L741.4,323.9 L741.3,324.1 L741.2,324.3 L741.0,324.4 L740.7,324.6 L740.5,324.7 L740.2,324.8 L444.8,418.4 L444.5,418.4 L444.2,418.5 L443.8,418.5 L443.5,418.6 L443.1,418.6 L442.8,418.5 L442.4,418.5 L442.1,418.4 L441.7,418.3 L441.4,418.2 L441.0,418.1 L440.7,417.9 L440.4,417.8 L440.1,417.6 L439.9,417.4 L439.6,417.2 L429.9,408.3 L429.2,407.7 L428.5,407.2 L427.6,406.7 L426.8,406.2 L425.9,405.8 L424.9,405.4 L423.9,405.1 L422.9,404.9 L421.9,404.7 L420.8,404.5 L419.8,404.4 L418.8,404.4 L417.8,404.5 L416.9,404.6 L416.0,404.7 L415.2,405.0 L384.3,414.7Z"/>
</g>
<g fill="#ff0a96" stroke="none">
<path d="M378.6,532.3 L313.1,478.2 L310.8,476.0 L308.4,473.8 L306.2,471.5 L304.2,469.2 L302.3,466.9 L300.6,464.7 L299.1,462.4 L297.7,460.2 L296.6,458.0 L295.6,455.8 L294.8,453.7 L294.2,451.7 L294.0,449.8 L293.9,447.9 L294.1,446.2 L294.4,444.6 L294.9,443.1 L295.6,441.7 L296.5,440.4 L297.6,439.3 L298.8,438.2 L300.2,437.4 L301.7,436.6 L303.3,436.0 L340.4,424.3 L336.2,420.4 L299.1,432.1 L296.9,432.9 L294.9,433.9 L293.1,435.1 L291.6,436.4 L290.2,437.8 L289.1,439.4 L288.3,441.1 L287.7,442.9 L287.3,444.8 L287.1,446.8 L287.2,448.9 L287.4,451.1 L287.8,453.3 L288.4,455.7 L289.3,458.1 L290.3,460.5 L291.6,463.0 L293.0,465.5 L294.6,468.0 L296.5,470.6 L298.5,473.1 L300.7,475.7 L303.0,478.2 L305.6,480.8 L366.5,536.5Z"/>
<path d="M320.0,407.1 L362.9,393.6 L398.4,426.1 L355.6,439.6Z"/>
<path d="M735.5,274.9 L776.8,261.8 L811.8,293.9 L770.6,307.0Z"/>
<path d="M753.8,166.9 L786.9,195.9 L811.6,219.7 L829.4,236.6 L831.0,238.0 L832.3,239.3 L833.5,240.6 L834.6,242.0 L835.6,243.4 L836.4,244.8 L837.1,246.2 L837.6,247.7 L838.0,249.1 L838.2,250.5 L838.3,251.9 L838.2,253.3 L837.9,254.7 L837.4,256.0 L836.7,257.2 L835.9,258.4 L835.0,259.5 L833.9,260.6 L832.7,261.6 L831.4,262.6 L829.9,263.5 L828.3,264.3 L826.6,265.0 L824.8,265.6 L790.9,276.3 L795.2,280.2 L829.1,269.5 L831.2,268.7 L833.2,267.9 L835.1,266.9 L836.8,265.9 L838.4,264.8 L839.9,263.6 L841.2,262.3 L842.3,260.9 L843.2,259.5 L844.0,258.0 L844.6,256.5 L845.0,254.9 L845.4,253.3 L845.5,251.6 L845.5,249.9 L845.3,248.2 L845.0,246.5 L844.4,244.7 L843.6,242.9 L842.7,241.2 L841.6,239.4 L840.3,237.7 L838.9,236.0 L837.4,234.4 L821.2,217.1 L797.2,192.8 L765.7,163.1Z"/>
<path d="M373.0,404.3 L404.7,394.3 L405.5,394.0 L406.2,393.7 L406.8,393.3 L407.4,392.8 L407.8,392.4 L408.2,391.8 L408.5,391.3 L408.6,390.7 L408.7,390.1 L408.7,389.5 L408.5,388.9 L408.3,388.2 L408.0,387.6 L407.6,387.0 L407.1,386.3 L406.5,385.7 L397.0,377.1 L396.7,376.9 L396.6,376.6 L396.4,376.4 L396.3,376.2 L396.2,376.0 L396.2,375.8 L396.2,375.5 L396.2,375.3 L396.3,375.1 L396.3,374.9 L396.5,374.8 L396.6,374.6 L396.8,374.4 L397.0,374.3 L397.3,374.2 L397.6,374.1 L693.3,280.4 L693.6,280.3 L693.9,280.2 L694.3,280.2 L694.6,280.2 L695.0,280.2 L695.3,280.2 L695.7,280.3 L696.0,280.3 L696.4,280.4 L696.7,280.5 L697.1,280.7 L697.4,280.8 L697.7,281.0 L698.0,281.2 L698.2,281.3 L698.5,281.6 L708.0,290.2 L708.6,290.8 L709.4,291.3 L710.2,291.8 L711.1,292.3 L712.0,292.7 L713.0,293.1 L714.0,293.4 L715.0,293.7 L716.0,293.9 L717.0,294.0 L718.0,294.1 L719.0,294.1 L720.0,294.1 L721.0,294.0 L721.9,293.8 L722.7,293.6 L748.6,285.4 L744.3,281.5 L718.5,289.7 L718.2,289.8 L717.9,289.8 L717.5,289.9 L717.2,289.9 L716.8,289.9 L716.5,289.8 L716.1,289.8 L715.8,289.7 L715.4,289.6 L715.1,289.5 L714.7,289.4 L714.4,289.3 L714.1,289.1 L713.8,288.9 L713.6,288.7 L713.3,288.5 L703.8,279.8 L703.1,279.3 L702.4,278.7 L701.6,278.2 L700.7,277.8 L699.8,277.4 L698.8,277.0 L697.8,276.7 L696.8,276.4 L695.8,276.2 L694.8,276.1 L693.7,276.0 L692.7,276.0 L691.8,276.0 L690.8,276.1 L689.9,276.3 L689.1,276.5 L393.3,370.2 L392.5,370.5 L391.8,370.8 L391.2,371.2 L390.7,371.7 L390.2,372.1 L389.8,372.7 L389.6,373.2 L389.4,373.8 L389.3,374.4 L389.4,375.0 L389.5,375.6 L389.7,376.3 L390.1,376.9 L390.5,377.5 L391.0,378.2 L391.6,378.8 L401.1,387.4 L401.3,387.6 L401.5,387.9 L401.6,388.1 L401.7,388.3 L401.8,388.5 L401.9,388.7 L401.9,389.0 L401.9,389.2 L401.8,389.4 L401.7,389.6 L401.6,389.7 L401.4,389.9 L401.2,390.1 L401.0,390.2 L400.8,390.3 L400.5,390.4 L368.8,400.5Z"/>
<path d="M388.6,418.6 L419.4,408.8 L419.7,408.8 L420.0,408.7 L420.3,408.7 L420.7,408.6 L421.0,408.7 L421.4,408.7 L421.7,408.7 L422.1,408.8 L422.4,408.9 L422.8,409.0 L423.1,409.1 L423.4,409.3 L423.7,409.4 L424.0,409.6 L424.3,409.8 L424.5,410.0 L434.3,418.9 L434.9,419.5 L435.7,420.0 L436.5,420.5 L437.4,421.0 L438.3,421.4 L439.3,421.8 L440.3,422.1 L441.3,422.3 L442.3,422.5 L443.3,422.7 L444.4,422.8 L445.4,422.8 L446.3,422.7 L447.3,422.6 L448.2,422.5 L449.0,422.2 L744.5,328.6 L745.2,328.4 L745.9,328.0 L746.6,327.6 L747.1,327.2 L747.6,326.7 L747.9,326.2 L748.2,325.6 L748.4,325.1 L748.4,324.5 L748.4,323.8 L748.3,323.2 L748.1,322.6 L747.7,321.9 L747.3,321.3 L746.8,320.7 L746.2,320.1 L736.5,311.2 L736.2,311.0 L736.1,310.8 L735.9,310.5 L735.8,310.3 L735.7,310.1 L735.7,309.9 L735.7,309.7 L735.7,309.5 L735.7,309.3 L735.8,309.1 L736.0,308.9 L736.1,308.7 L736.3,308.6 L736.5,308.4 L736.8,308.3 L737.0,308.2 L764.2,299.6 L759.9,295.7 L732.8,304.3 L732.0,304.6 L731.3,305.0 L730.7,305.3 L730.2,305.8 L729.7,306.3 L729.3,306.8 L729.1,307.3 L728.9,307.9 L728.8,308.5 L728.9,309.1 L729.0,309.8 L729.2,310.4 L729.6,311.0 L730.0,311.7 L730.5,312.3 L731.1,312.9 L740.8,321.8 L741.0,322.0 L741.2,322.2 L741.4,322.4 L741.5,322.7 L741.6,322.9 L741.6,323.1 L741.6,323.3 L741.6,323.5 L741.5,323.7 L741.4,323.9 L741.3,324.1 L741.2,324.3 L741.0,324.4 L740.7,324.6 L740.5,324.7 L740.2,324.8 L444.8,418.4 L444.5,418.4 L444.2,418.5 L443.8,418.5 L443.5,418.6 L443.1,418.6 L442.8,418.5 L442.4,418.5 L442.1,418.4 L441.7,418.3 L441.4,418.2 L441.0,418.1 L440.7,417.9 L440.4,417.8 L440.1,417.6 L439.9,417.4 L439.6,417.2 L429.9,408.3 L429.2,407.7 L428.5,407.2 L427.6,406.7 L426.8,406.2 L425.9,405.8 L424.9,405.4 L423.9,405.1 L422.9,404.9 L421.9,404.7 L420.8,404.5 L419.8,404.4 L418.8,404.4 L417.8,404.5 L416.9,404.6 L416.0,404.7 L415.2,405.0 L384.3,414.7Z"/>
</g>
<polygon points="159.3,349.3 775.5,154.1 975.9,337.3 359.7,532.5" fill="none" stroke="#000" stroke-width="1.5" stroke-linejoin="round"/>
<line x1="159.3" y1="349.3" x2="152.4" y2="377.7" stroke="#000" stroke-width="1.5" stroke-linecap="round"/>
<line x1="359.7" y1="532.5" x2="352.8" y2="560.9" stroke="#000" stroke-width="1.5" stroke-linecap="round"/>
<line x1="975.9" y1="337.3" x2="969.0" y2="365.7" stroke="#000" stroke-width="1.5" stroke-linecap="round"/>
<line x1="775.5" y1="154.1" x2="773.3" y2="163.1" stroke="#000" stroke-width="1.5" stroke-linecap="round"/>
<line x1="770.7" y1="176.9" x2="844.3" y2="166.9" stroke="#000" stroke-width="1.8"/>
<line x1="847.0" y1="217.7" x2="917.6" y2="217.7" stroke="#000" stroke-width="1.9"/>
</svg>
<div class="txt">
<h1>薄膜铌酸锂调制器</h1>
<ul class="l1">
<li><span class="b arrow" style="left:81.90px;top:131.70px">➢</span><span class="r e" style="left:112.18px;top:142.95px;letter-spacing:-0.67px;">LN</span><span class="r c" style="left:148.05px;top:145.11px;letter-spacing:0.91px;">厚度</span><span class="r e" style="left:202.12px;top:142.95px;letter-spacing:0.20px;">400nm</span></li>
<li><span class="b arrow" style="left:81.90px;top:164.00px">➢</span><span class="r e" style="left:112.18px;top:175.25px;letter-spacing:-0.21px;">LN-SiN</span><span class="r c" style="left:204.61px;top:177.41px;letter-spacing:-0.54px;">层间间隙：</span><span class="r e" style="left:340.03px;top:175.25px;letter-spacing:0.53px;">50nm</span></li>
<li><span class="b arrow" style="left:81.90px;top:196.40px">➢</span><span class="r c" style="left:112.16px;top:209.81px;letter-spacing:-0.60px;">带宽：</span><span class="r e" style="left:195.63px;top:207.65px;letter-spacing:-0.09px;">&gt;110GHz</span></li>
<li><span class="b arrow" style="left:81.90px;top:228.70px">➢</span><span class="r c" style="left:112.22px;top:242.11px;letter-spacing:0.06px;">演示</span><span class="r e" style="left:166.10px;top:239.95px;letter-spacing:-0.40px;">260Gbps </span><span class="r e" style="left:289.68px;top:239.95px;letter-spacing:0.22px;">PAM4</span></li>
</ul>
<ul class="l2">
<li><span class="b arrow" style="left:766.70px;top:422.50px">➢</span><span class="r c" style="left:797.35px;top:435.91px;letter-spacing:-0.64px;">调制长度：</span><span class="r e" style="left:933.53px;top:433.75px;letter-spacing:0.69px;">5mm</span></li>
<li><span class="b arrow" style="left:766.70px;top:454.80px">➢</span><span class="r c" style="left:797.28px;top:468.21px;letter-spacing:-0.41px;">插入损耗</span><span class="r e" style="left:906.91px;top:466.05px;letter-spacing:-1.07px;">12.8dB</span></li>
<li><span class="b arrow" style="left:766.70px;top:487.20px">➢</span><span class="r e" style="left:797.37px;top:498.45px;">V</span><span class="r e" style="left:816.92px;top:499.33px;font-family:'DejaVu Sans','Liberation Sans',sans-serif;font-size:26.5px;">π</span><span class="r e" style="left:833.65px;top:498.45px;">L</span></li>
<li><span class="b dot" style="left:767.60px;top:531.90px">•</span><span class="r e" style="left:797.70px;top:530.75px;letter-spacing:-0.46px;">2.15V.cm@1310</span></li>
<li><span class="b dot" style="left:767.60px;top:564.20px">•</span><span class="r e" style="left:797.70px;top:563.05px;letter-spacing:-0.46px;">2.75V.cm@1550</span></li>
</ul>
<div class="lab"><span class="r c" style="left:460.9px;top:275.3px">铝</span></div>
<div class="lab"><span class="r e" style="left:847.20px;top:151.65px;letter-spacing:-1.04px;">SiN</span><span class="r c" style="left:890.98px;top:153.81px;letter-spacing:0.62px;">结构</span></div>
<div class="lab"><span class="r e" style="left:919.28px;top:203.95px;letter-spacing:-0.69px;">LN</span><span class="r c" style="left:954.86px;top:206.11px;letter-spacing:0.55px;">薄膜</span></div>
</div>
</div>
</body>
</html>
